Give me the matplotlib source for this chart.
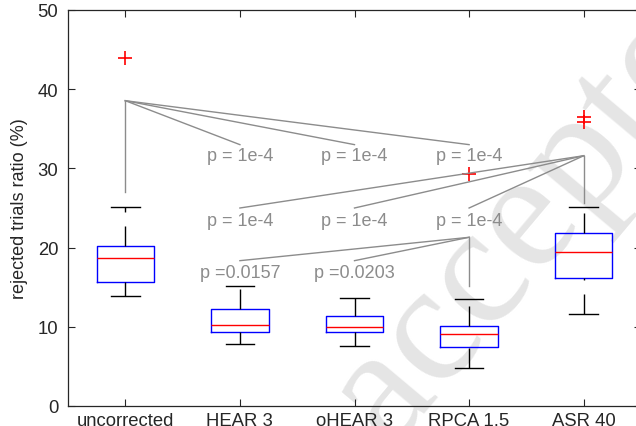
import matplotlib
matplotlib.use('Agg')
import matplotlib.pyplot as plt

plt.rcParams['font.family'] = ['Liberation Sans', 'DejaVu Sans']

# box statistics (rejected trials ratio, %)
methods = ['uncorrected', 'HEAR 3', 'oHEAR 3', 'RPCA 1.5', 'ASR 40']
whisk_lo = [13.9, 7.8, 7.55, 4.75, 11.6]
q1 = [15.7, 9.4, 9.3, 7.4, 16.1]
medians = [18.7, 10.2, 10.0, 9.1, 19.4]
q3 = [20.2, 12.3, 11.4, 10.15, 21.8]
whisk_hi = [25.1, 15.1, 13.6, 13.55, 25.1]
outliers = [[44.0], [], [], [29.3], [36.45, 35.8]]

# pairwise tests: (reference box, compared box, p label)
tests_uncorr = [(1, 2, 'p = 1e-4'), (1, 3, 'p = 1e-4'), (1, 4, 'p = 1e-4')]
tests_asr = [(5, 2, 'p = 1e-4'), (5, 3, 'p = 1e-4'), (5, 4, 'p = 1e-4')]
tests_rpca = [(4, 2, 'p =0.0157'), (4, 3, 'p =0.0203')]

# bracket geometry: (stem bottom, apex, line end, label y)
geom_uncorr = (27.05, 38.55, 33.0, 31.6)
geom_asr = (25.6, 31.6, 25.0, 23.4)
geom_rpca = (15.2, 21.3, 18.35, 16.85)

stats = []
for i in range(len(methods)):
    stats.append({'label': methods[i], 'whislo': whisk_lo[i], 'q1': q1[i],
                  'med': medians[i], 'q3': q3[i], 'whishi': whisk_hi[i],
                  'fliers': outliers[i]})

fig = plt.figure(figsize=(6.36, 4.27), dpi=100)
ax = fig.add_axes([68/636, 20/427, 573/636, 396/427])
ax.patch.set_visible(False)

# watermark sits behind the axes content
fig.text(549/636, 1 - 194/427, 'accepted', family='Liberation Serif',
         fontsize=122, color='#e5e5e5', rotation=50, rotation_mode='anchor',
         ha='center', va='center', zorder=-1)

bp = ax.bxp(stats, positions=range(1, len(methods) + 1), widths=0.5,
            boxprops=dict(color='#0000ff', linewidth=1.0),
            medianprops=dict(color='#ff0000', linewidth=1.0),
            whiskerprops=dict(color='black', linewidth=1.0,
                              linestyle=(0, (14.4, 10.1))),
            capprops=dict(color='black', linewidth=1.0),
            flierprops=dict(marker='+', markeredgecolor='#ff0000', markersize=10,
                            markeredgewidth=1.2, linestyle='none'))

# dashes run upward from the lower end, so flip the lower whiskers
for w in bp['whiskers'][0::2]:
    xs, ys = w.get_data()
    w.set_data(xs[::-1], ys[::-1])

gray = '#8c8c8c'
def draw_tests(tests, geom):
    stem_lo, apex, end_y, text_y = geom
    src = tests[0][0]
    ax.plot([src, src], [stem_lo, apex], color=gray, lw=1.0)
    for a, b, txt in tests:
        ax.plot([a, b], [apex, end_y], color=gray, lw=1.0)
        ax.text(b, text_y, txt, color=gray, fontsize=13, ha='center', va='center')

draw_tests(tests_uncorr, geom_uncorr)
draw_tests(tests_asr, geom_asr)
draw_tests(tests_rpca, geom_rpca)

ax.set_xlim(0.5, 5.5)
ax.set_ylim(0, 50)
ax.set_yticks([0, 10, 20, 30, 40, 50])
ax.set_xticks(range(1, len(methods) + 1))
ax.set_xticklabels(methods)
ax.set_ylabel('rejected trials ratio (%)', fontsize=13, color='#262626')
ax.yaxis.set_label_coords(-0.07, 0.5)

ax.tick_params(direction='in', length=5, width=0.8, colors='#262626',
               labelsize=13.3, top=True, right=True)
ax.tick_params(axis='y', pad=7)
ax.tick_params(axis='x', pad=4)
for s in ax.spines.values():
    s.set_color('#262626')
    s.set_linewidth(0.9)

fig.savefig('out.png', dpi=100)
